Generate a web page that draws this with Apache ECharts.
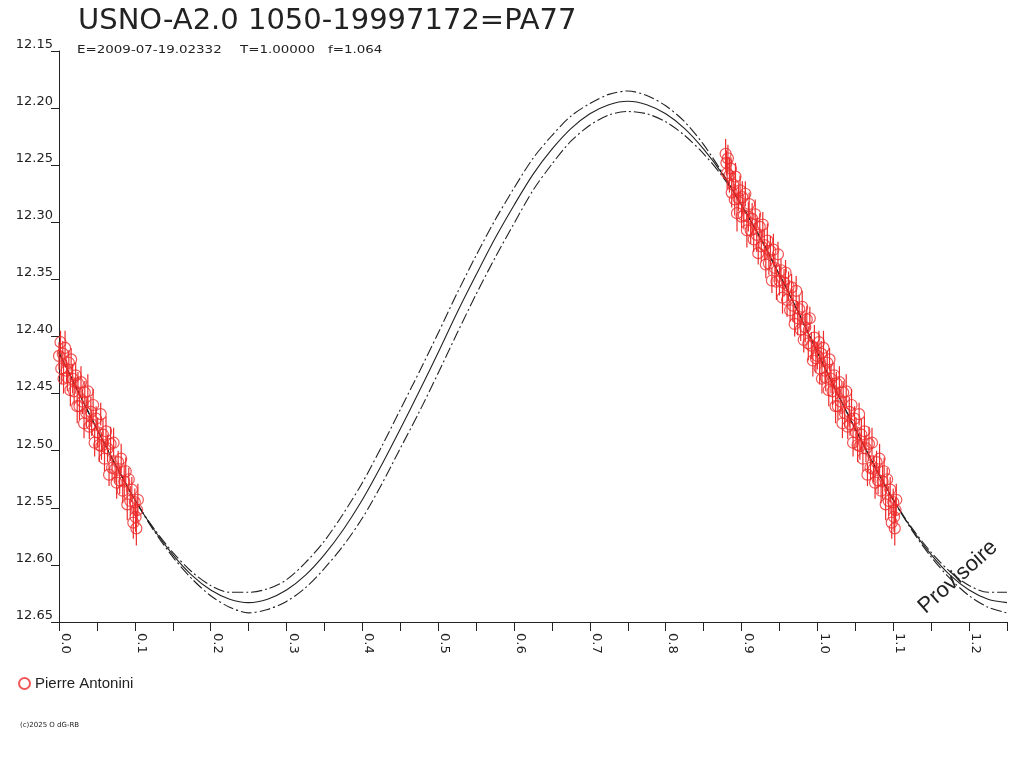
<!DOCTYPE html>
<html>
<head>
<meta charset="utf-8">
<title>USNO-A2.0 1050-19997172=PA77</title>
<script src="https://cdn.jsdelivr.net/npm/echarts@6/dist/echarts.min.js"></script>
<style>
  html, body { margin: 0; padding: 0; background: #fff; }
  #chart { width: 1024px; height: 768px; }
</style>
</head>
<body>
<div id="chart"></div>
<script>
"use strict";

// model light curve (phase, magnitude) - centre and the two dash-dot limits
var modelPhase = [0, 0.025, 0.05, 0.075, 0.1, 0.125, 0.15, 0.175, 0.2, 0.225, 0.25,
    0.275, 0.3, 0.325, 0.35, 0.375, 0.4, 0.425, 0.45, 0.475, 0.5,
    0.525, 0.55, 0.575, 0.6, 0.625, 0.65, 0.675, 0.7, 0.725, 0.75,
    0.775, 0.8, 0.825, 0.85, 0.875, 0.9, 0.925, 0.95, 0.975, 1,
    1.025, 1.05, 1.075, 1.1, 1.125, 1.15, 1.175, 1.2, 1.225, 1.25];
var modelMid = [12.414, 12.448, 12.481, 12.513, 12.543, 12.569, 12.591, 12.609, 12.622, 12.630, 12.633,
    12.630, 12.622, 12.609, 12.591, 12.569, 12.543, 12.513, 12.481, 12.448, 12.414,
    12.379, 12.346, 12.314, 12.285, 12.258, 12.236, 12.218, 12.205, 12.197, 12.194,
    12.197, 12.205, 12.218, 12.236, 12.258, 12.285, 12.314, 12.346, 12.379, 12.414,
    12.448, 12.481, 12.513, 12.543, 12.569, 12.591, 12.609, 12.622, 12.630, 12.633];
var modelUpper = [12.414, 12.448, 12.481, 12.513, 12.543, 12.568, 12.589, 12.606, 12.618, 12.624, 12.624,
    12.621, 12.613, 12.598, 12.579, 12.555, 12.528, 12.497, 12.464, 12.431, 12.397,
    12.362, 12.329, 12.298, 12.270, 12.244, 12.224, 12.207, 12.196, 12.188, 12.185,
    12.189, 12.198, 12.212, 12.232, 12.257, 12.285, 12.314, 12.346, 12.379, 12.414,
    12.448, 12.481, 12.513, 12.543, 12.568, 12.589, 12.606, 12.618, 12.624, 12.624];
var modelLower = [12.414, 12.448, 12.481, 12.513, 12.543, 12.570, 12.593, 12.612, 12.627, 12.637, 12.642,
    12.639, 12.632, 12.620, 12.603, 12.583, 12.559, 12.530, 12.498, 12.466, 12.432,
    12.397, 12.363, 12.331, 12.301, 12.272, 12.249, 12.229, 12.215, 12.206, 12.203,
    12.205, 12.212, 12.224, 12.240, 12.260, 12.285, 12.314, 12.346, 12.379, 12.414,
    12.448, 12.481, 12.513, 12.543, 12.570, 12.593, 12.612, 12.627, 12.637, 12.642];

// observations, phase 0.00 - 0.10 (also drawn again at phase + 1)
var obsPhaseA = [0.000, 0.002, 0.003, 0.005, 0.006, 0.008, 0.010, 0.011, 0.013, 0.015,
    0.016, 0.018, 0.020, 0.022, 0.024, 0.025, 0.027, 0.029, 0.031, 0.033,
    0.034, 0.036, 0.038, 0.040, 0.042, 0.043, 0.045, 0.047, 0.049, 0.051,
    0.053, 0.055, 0.056, 0.058, 0.060, 0.062, 0.064, 0.066, 0.068, 0.070,
    0.072, 0.074, 0.076, 0.078, 0.080, 0.082, 0.084, 0.086, 0.088, 0.090,
    0.092, 0.094, 0.096, 0.098, 0.100, 0.101, 0.102, 0.103, 0.104];
var obsMagA = [12.417, 12.405, 12.428, 12.415, 12.437, 12.410, 12.430, 12.436, 12.423, 12.447,
    12.420, 12.437, 12.448, 12.434, 12.461, 12.441, 12.461, 12.440, 12.457, 12.476,
    12.449, 12.467, 12.448, 12.479, 12.466, 12.477, 12.460, 12.493, 12.472, 12.484,
    12.495, 12.468, 12.496, 12.486, 12.507, 12.483, 12.498, 12.521, 12.494, 12.515,
    12.493, 12.516, 12.528, 12.510, 12.526, 12.507, 12.535, 12.527, 12.518, 12.547,
    12.525, 12.544, 12.534, 12.563, 12.545, 12.558, 12.568, 12.552, 12.543];
var obsErrA = [0.012, 0.010, 0.014, 0.011, 0.013, 0.015, 0.010, 0.012, 0.011, 0.014,
    0.010, 0.013, 0.012, 0.011, 0.015, 0.010, 0.012, 0.014, 0.011, 0.013,
    0.010, 0.012, 0.015, 0.011, 0.013, 0.010, 0.014, 0.012, 0.011, 0.013,
    0.015, 0.010, 0.012, 0.014, 0.011, 0.013, 0.012, 0.010, 0.015, 0.011,
    0.013, 0.012, 0.014, 0.010, 0.012, 0.013, 0.011, 0.015, 0.012, 0.014,
    0.010, 0.013, 0.011, 0.014, 0.012, 0.013, 0.015, 0.011, 0.014];

// observations, phase 0.88 - 1.00
var obsPhaseB = [0.879, 0.880, 0.881, 0.882, 0.884, 0.886, 0.887, 0.889, 0.891, 0.892,
    0.894, 0.896, 0.898, 0.900, 0.901, 0.903, 0.905, 0.907, 0.909, 0.910,
    0.912, 0.914, 0.916, 0.918, 0.920, 0.922, 0.924, 0.926, 0.928, 0.930,
    0.932, 0.934, 0.936, 0.938, 0.940, 0.942, 0.944, 0.946, 0.948, 0.950,
    0.952, 0.954, 0.956, 0.958, 0.960, 0.962, 0.964, 0.966, 0.968, 0.970,
    0.972, 0.974, 0.976, 0.978, 0.980, 0.982, 0.984, 0.986, 0.988, 0.990,
    0.992, 0.994, 0.996, 0.998];
var obsMagB = [12.240, 12.248, 12.257, 12.244, 12.259, 12.253, 12.274, 12.267, 12.280, 12.260,
    12.292, 12.279, 12.272, 12.295, 12.278, 12.294, 12.275, 12.307, 12.295, 12.284,
    12.307, 12.297, 12.315, 12.293, 12.311, 12.327, 12.304, 12.321, 12.302, 12.320,
    12.337, 12.316, 12.336, 12.325, 12.351, 12.324, 12.340, 12.352, 12.328, 12.351,
    12.342, 12.366, 12.353, 12.344, 12.368, 12.356, 12.377, 12.357, 12.373, 12.389,
    12.360, 12.384, 12.376, 12.394, 12.374, 12.403, 12.392, 12.385, 12.406, 12.384,
    12.408, 12.421, 12.401, 12.419];
var obsErrB = [0.013, 0.011, 0.014, 0.012, 0.015, 0.010, 0.013, 0.011, 0.014, 0.012,
    0.016, 0.011, 0.013, 0.010, 0.014, 0.012, 0.011, 0.015, 0.013, 0.010,
    0.012, 0.014, 0.011, 0.013, 0.015, 0.010, 0.012, 0.014, 0.011, 0.013,
    0.012, 0.015, 0.010, 0.013, 0.011, 0.014, 0.012, 0.016, 0.011, 0.013,
    0.010, 0.014, 0.012, 0.011, 0.015, 0.013, 0.010, 0.012, 0.014, 0.011,
    0.013, 0.015, 0.012, 0.010, 0.014, 0.011, 0.013, 0.012, 0.015, 0.010,
    0.012, 0.014, 0.011, 0.013];

var RED = '#ee2c2c';
var INK = '#222222';
var PHASE_MAX = 1.25;

function pairs(xs, ys) {
    var out = [];
    for (var i = 0, n = xs.length; i < n; i++) {
        out.push([xs[i], ys[i]]);
    }
    return out;
}

// each observation is shown at its phase and again one cycle later if it fits
function addObs(ph, mg, er, out) {
    for (var i = 0, n = ph.length; i < n; i++) {
        out.push([ph[i], mg[i], er[i]]);
        if (ph[i] + 1 <= PHASE_MAX) {
            out.push([ph[i] + 1, mg[i], er[i]]);
        }
    }
}

var obs = [];
addObs(obsPhaseA, obsMagA, obsErrA, obs);
addObs(obsPhaseB, obsMagB, obsErrB, obs);

var myChart = echarts.init(document.getElementById('chart'), null, {renderer: 'canvas'});

var dashDot = {color: INK, width: 1.1, type: [11, 3, 2, 3]};

var option = {
    animation: false,
    backgroundColor: '#ffffff',
    textStyle: {fontFamily: 'DejaVu Sans', color: INK},
    grid: {left: 59, right: 17, top: 51, bottom: 146, containLabel: false},
    legend: {
        data: ['Pierre Antonini'],
        left: 18, top: 676, padding: 0,
        itemWidth: 11, itemHeight: 11, itemGap: 10,
        textStyle: {fontFamily: 'Liberation Sans', fontSize: 15, color: INK}
    },
    xAxis: {
        type: 'value',
        min: 0, max: PHASE_MAX, interval: 0.05,
        axisLine: {show: true, onZero: false, lineStyle: {color: INK, width: 1}},
        axisTick: {show: true, length: 9, lineStyle: {color: INK, width: 1}},
        splitLine: {show: false},
        axisLabel: {
            rotate: -90, margin: 11, verticalAlign: 'bottom',
            fontSize: 13, color: INK,
            showMinLabel: true, showMaxLabel: true,
            formatter: function (v) {
                var k = Math.round(v * 20);
                return k % 2 === 0 ? (k / 20).toFixed(1) : '';
            }
        }
    },
    yAxis: {
        type: 'value', inverse: true,
        min: 12.15, max: 12.65, interval: 0.05,
        axisLine: {show: true, onZero: false, lineStyle: {color: INK, width: 1}},
        axisTick: {show: true, length: 8, lineStyle: {color: INK, width: 1}},
        splitLine: {show: false},
        axisLabel: {
            margin: 6, verticalAlign: 'bottom', fontSize: 13, color: INK,
            formatter: function (v) { return v.toFixed(2); }
        }
    },
    graphic: [
        {type: 'text', x: 78, y: 21, style: {text: 'USNO-A2.0 1050-19997172=PA77', fill: INK,
            font: '29px "DejaVu Sans"', align: 'left', verticalAlign: 'middle'}},
        {type: 'text', x: 77, y: 50, scaleX: 1.22, style: {text: 'E=2009-07-19.02332', fill: INK,
            font: '11px "DejaVu Sans"', align: 'left', verticalAlign: 'middle'}},
        {type: 'text', x: 240, y: 50, scaleX: 1.22, style: {text: 'T=1.00000', fill: INK,
            font: '11px "DejaVu Sans"', align: 'left', verticalAlign: 'middle'}},
        {type: 'text', x: 328, y: 50, scaleX: 1.22, style: {text: 'f=1.064', fill: INK,
            font: '11px "DejaVu Sans"', align: 'left', verticalAlign: 'middle'}},
        {type: 'text', x: 20, y: 725, style: {text: '(c)2025 O dG-RB', fill: INK,
            font: '7px "DejaVu Sans"', align: 'left', verticalAlign: 'middle'}},
        {type: 'text', x: 958, y: 577, rotation: 0.73, z: 10, style: {text: 'Provisoire', fill: INK,
            font: '22px "Liberation Sans"', align: 'center', verticalAlign: 'middle'}}
    ],
    series: [
        {
            name: 'model', type: 'line', data: pairs(modelPhase, modelMid),
            smooth: 0.3, showSymbol: false, silent: true, z: 2,
            lineStyle: {color: INK, width: 1.1}
        },
        {
            name: 'upper', type: 'line', data: pairs(modelPhase, modelUpper),
            smooth: 0.3, showSymbol: false, silent: true, z: 2,
            lineStyle: dashDot
        },
        {
            name: 'lower', type: 'line', data: pairs(modelPhase, modelLower),
            smooth: 0.3, showSymbol: false, silent: true, z: 2,
            lineStyle: dashDot
        },
        {
            name: 'errors', type: 'custom', data: obs, z: 3, silent: true,
            encode: {x: 0, y: 1},
            renderItem: function (params, api) {
                var x = api.value(0), y = api.value(1), e = api.value(2);
                var p1 = api.coord([x, y - e]);
                var p2 = api.coord([x, y + e]);
                return {
                    type: 'line',
                    shape: {x1: p1[0], y1: p1[1], x2: p2[0], y2: p2[1]},
                    style: {stroke: RED, lineWidth: 1.2}
                };
            }
        },
        {
            name: 'Pierre Antonini', type: 'scatter', data: obs, z: 4,
            encode: {x: 0, y: 1},
            symbol: 'circle', symbolSize: 11,
            itemStyle: {color: 'rgba(0,0,0,0)', borderColor: RED, borderWidth: 1.2}
        }
    ]
};

myChart.setOption(option);
</script>
</body>
</html>
